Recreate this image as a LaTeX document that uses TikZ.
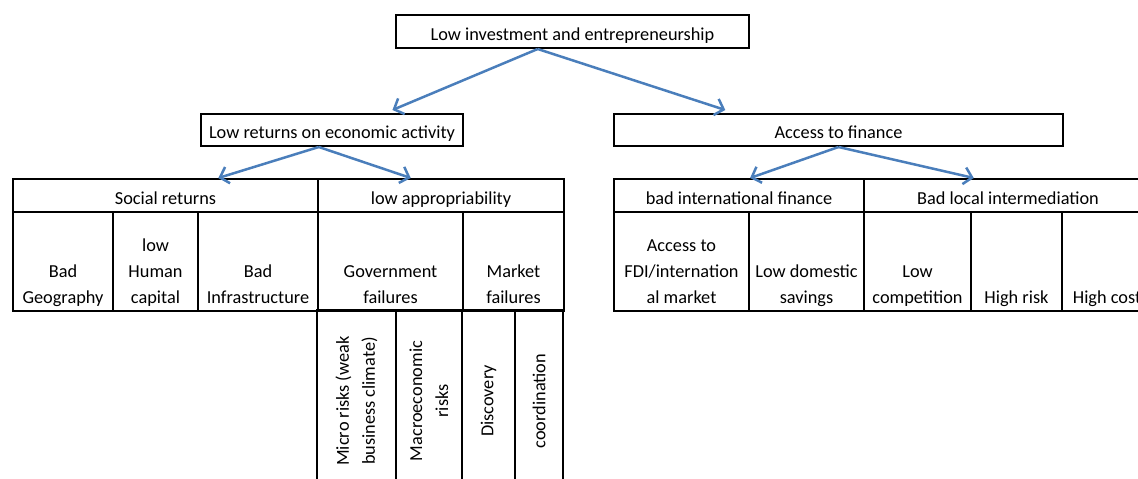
\documentclass[tikz,border=0pt]{standalone}
\usepackage{fontspec}
\setmainfont{Carlito}
\usepackage{tikz}
\usetikzlibrary{calc,arrows.meta}
\definecolor{arrowblue}{HTML}{4A7EBB}
% text sits on the bottom of its cell
\newcommand\celltext[3]{\parbox[c][#2pt][b]{#1pt}{\centering #3\strut\par\kern0pt}}
\tikzset{
  cellfont/.style={font=\fontsize{18.3}{26}\selectfont},
  box/.style={draw=black, line width=2pt, inner sep=0pt, anchor=north west, cellfont},
  vcell/.style={draw=black, line width=2pt, rotate=90, align=center, minimum width=182pt, cellfont},
  link/.style={draw=arrowblue, line width=2.5pt, -{Straight Barb[length=8pt,width=17pt]}},
}

\begin{document}
\begin{tikzpicture}[x=1pt,y=-1pt]
  \useasboundingbox (0,0) rectangle (1138,479);
  \clip (0,0) rectangle (1138,479);

  % top of the tree
  \node[box] (top) at (395,14) {\celltext{353}{33}{Low investment and entrepreneurship}};
  \node[box] (ret) at (200,113) {\celltext{262}{32}{Low returns on economic activity}};
  \node[box] (fin) at (613,113) {\celltext{449}{32}{Access to finance}};

  % returns table
  \node[box] (soc) at (12,178) {\celltext{305}{33}{Social returns}};
  \node[box] (app) at (317,178) {\celltext{246}{33}{low appropriability}};
  \node[box] (geo) at (12,211) {\celltext{100}{99}{Bad\\Geography}};
  \node[box] (hum) at (112,211) {\celltext{85}{99}{low\\Human\\capital}};
  \node[box] (infra) at (197,211) {\celltext{120}{99}{Bad\\Infrastructure}};
  \node[box] (gov) at (317,211) {\celltext{145}{99}{Government\\failures}};
  \node[box] (mkt) at (462,211) {\celltext{101}{99}{Market\\failures}};
  \node[vcell, minimum height=79pt] (micro) at (356.5,401) {Micro risks (weak\\business climate)};
  \node[vcell, minimum height=66pt] (macro) at (429,401) {Macroeconomic\\risks};
  \node[vcell, minimum height=53pt] (disc) at (488.5,401) {Discovery};
  \node[vcell, minimum height=48pt] (coord) at (539,401) {coordination};

  % finance table
  \node[box] (intl) at (613,178) {\celltext{250}{33}{bad international finance}};
  \node[box] (loc) at (863,178) {\celltext{288}{33}{Bad local intermediation}};
  \node[box] (fdi) at (613,211) {\celltext{135}{99}{Access to\\FDI/internation\\al market}};
  \node[box] (sav) at (748,211) {\celltext{115}{99}{Low domestic\\savings}};
  \node[box] (comp) at (863,211) {\celltext{107}{99}{Low\\competition}};
  \node[box] (risk) at (970,211) {\celltext{91}{99}{High risk}};
  \node[box] (cost) at (1061,211) {\celltext{90}{99}{High cost}};

  % arrows
  \draw[link] ($(top.south west)!0.402!(top.south east)$) -- ($(ret.north west)!0.729!(ret.north east)+(0,-3)$);
  \draw[link] ($(top.south west)!0.402!(top.south east)$) -- ($(fin.north west)!0.249!(fin.north east)+(0,-3)$);
  \draw[link] ($(ret.south west)!0.45!(ret.south east)$) -- ($(soc.north west)!0.672!(soc.north east)$);
  \draw[link] ($(ret.south west)!0.45!(ret.south east)$) -- ($(app.north west)!0.378!(app.north east)$);
  \draw[link] (fin.south) -- ($(intl.north west)!0.544!(intl.north east)$);
  \draw[link] (fin.south) -- ($(loc.north west)!0.382!(loc.north east)$);
\end{tikzpicture}
\end{document}
